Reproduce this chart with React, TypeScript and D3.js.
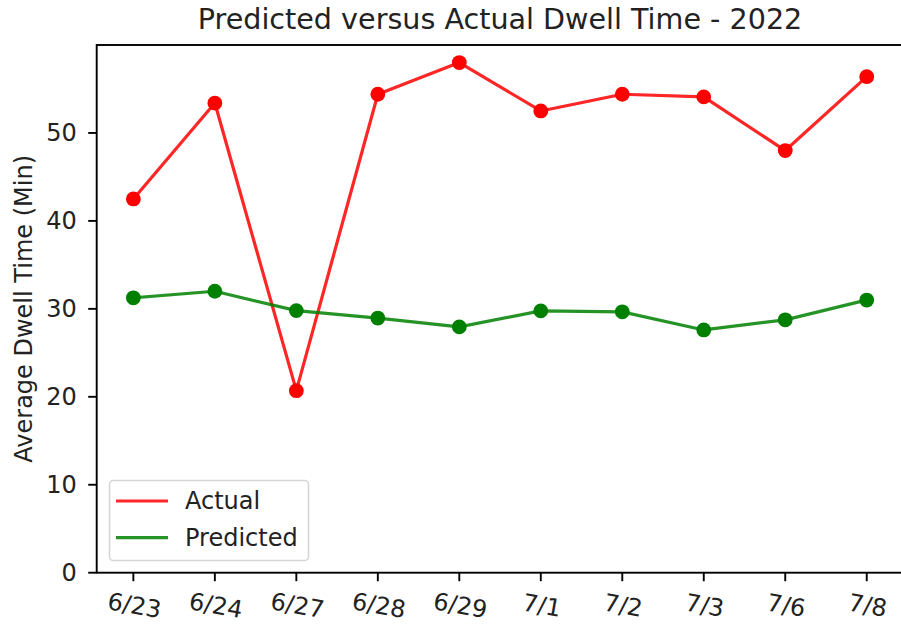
import { useEffect, useRef } from 'react';
import * as d3 from 'd3';

const dates = ['6/23', '6/24', '6/27', '6/28', '6/29', '7/1', '7/2', '7/3', '7/6', '7/8'];
const actual = [42.5, 53.4, 20.7, 54.4, 58.0, 52.5, 54.4, 54.1, 48.0, 56.4];
const predicted = [31.25, 32.0, 29.8, 28.95, 27.95, 29.77, 29.66, 27.6, 28.75, 31.0];
const yTicks = [0, 10, 20, 30, 40, 50];

const W = 901;
const H = 626;
const FONT = '"DejaVu Sans", sans-serif';

const App = () => {
  const svgRef = useRef<SVGSVGElement>(null);

  useEffect(() => {
    const svg = d3.select(svgRef.current);
    svg.selectAll('*').remove();

    const left = 96.7;
    const right = 903.4;
    const top = 45;
    const bottom = 572.7;

    // categorical x with matplotlib-like 0.45 step padding at each end
    const x = d3
      .scalePoint<string>()
      .domain(dates)
      .range([left, right])
      .padding(0.45);

    const y = d3.scaleLinear().domain([0, 60]).range([bottom, top]);

    svg.append('rect').attr('width', W).attr('height', H).attr('fill', '#fff');

    // series
    const line = d3
      .line<number>()
      .x((_, i) => x(dates[i]) as number)
      .y(d => y(d));

    const series = [
      { name: 'Actual', values: actual, dot: '#ff0000', stroke: 'rgba(255,0,0,0.85)' },
      { name: 'Predicted', values: predicted, dot: '#008000', stroke: 'rgba(0,128,0,0.85)' },
    ];

    series.forEach(s => {
      svg
        .append('g')
        .selectAll('circle')
        .data(s.values)
        .join('circle')
        .attr('cx', (_, i) => x(dates[i]) as number)
        .attr('cy', d => y(d))
        .attr('r', 7.4)
        .attr('fill', s.dot);
    });

    series.forEach(s => {
      svg
        .append('path')
        .datum(s.values)
        .attr('d', line)
        .attr('fill', 'none')
        .attr('stroke', s.stroke)
        .attr('stroke-width', 3.2)
        .attr('stroke-linejoin', 'round')
        .attr('stroke-linecap', 'square');
    });

    // spines
    svg
      .append('rect')
      .attr('x', left)
      .attr('y', top)
      .attr('width', right - left)
      .attr('height', bottom - top)
      .attr('fill', 'none')
      .attr('stroke', '#000')
      .attr('stroke-width', 1.9);

    // y axis
    const yg = svg.append('g');
    yTicks.forEach(t => {
      yg.append('line')
        .attr('x1', left - 8.5)
        .attr('x2', left)
        .attr('y1', y(t))
        .attr('y2', y(t))
        .attr('stroke', '#000')
        .attr('stroke-width', 1.9);
      yg.append('text')
        .attr('x', left - 20)
        .attr('y', y(t))
        .attr('text-anchor', 'end')
        .attr('dominant-baseline', 'central')
        .style('font-family', FONT)
        .style('font-size', '24px')
        .attr('fill', '#222')
        .text(t);
    });

    // x axis
    const xg = svg.append('g');
    dates.forEach(d => {
      const px = x(d) as number;
      xg.append('line')
        .attr('x1', px)
        .attr('x2', px)
        .attr('y1', bottom)
        .attr('y2', bottom + 8.5)
        .attr('stroke', '#000')
        .attr('stroke-width', 1.9);
      xg.append('text')
        .attr('transform', `translate(${px + 1},${bottom + 33}) rotate(10)`)
        .attr('text-anchor', 'middle')
        .attr('dominant-baseline', 'central')
        .style('font-family', FONT)
        .style('font-size', '24px')
        .attr('fill', '#222')
        .text(d);
    });

    // title and y label
    svg
      .append('text')
      .attr('x', (left + right) / 2)
      .attr('y', 29)
      .attr('text-anchor', 'middle')
      .style('font-family', FONT)
      .style('font-size', '28.6px')
      .attr('fill', '#222')
      .text('Predicted versus Actual Dwell Time - 2022');

    svg
      .append('text')
      .attr('transform', `translate(32,${(top + bottom) / 2}) rotate(-90)`)
      .attr('text-anchor', 'middle')
      .style('font-family', FONT)
      .style('font-size', '24px')
      .attr('fill', '#222')
      .text('Average Dwell Time (Min)');

    // legend
    const lg = svg.append('g');
    lg.append('rect')
      .attr('x', 109.5)
      .attr('y', 480.5)
      .attr('width', 199)
      .attr('height', 80)
      .attr('rx', 4)
      .attr('fill', 'rgba(255,255,255,0.8)')
      .attr('stroke', '#d6d6d6')
      .attr('stroke-width', 1.6);

    series.forEach((s, i) => {
      const ly = 501 + i * 36.7;
      lg.append('line')
        .attr('x1', 116)
        .attr('x2', 168)
        .attr('y1', ly)
        .attr('y2', ly)
        .attr('stroke', s.stroke)
        .attr('stroke-width', 3.2);
      lg.append('text')
        .attr('x', 185)
        .attr('y', ly)
        .attr('dominant-baseline', 'central')
        .style('font-family', FONT)
        .style('font-size', '24px')
        .attr('fill', '#222')
        .text(s.name);
    });
  }, []);

  return (
    <svg
      ref={svgRef}
      width={W}
      height={H}
      style={{ position: 'absolute', left: 0, top: 0, display: 'block' }}
    />
  );
};

export default App;
